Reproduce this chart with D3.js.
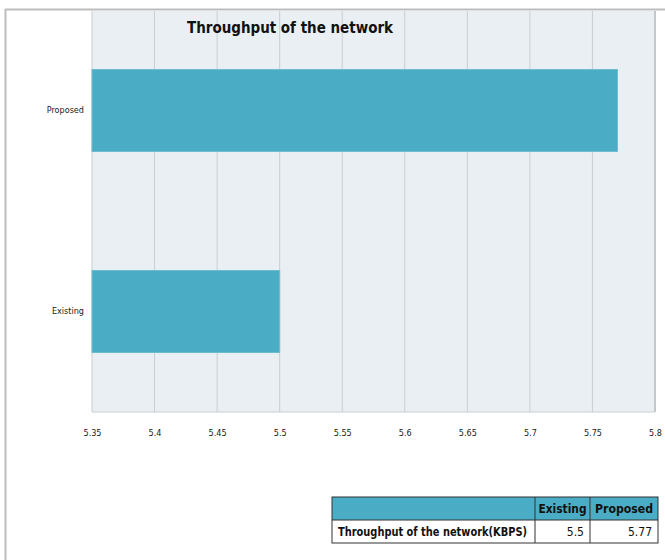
<!DOCTYPE html>
<html>
<head>
<meta charset="utf-8">
<script src="https://cdn.jsdelivr.net/npm/d3@7"></script>
<style>
  body { margin: 0; background: #fff; }
  svg { display: block; }
  text { font-family: "DejaVu Sans Condensed", "DejaVu Sans", sans-serif; }
</style>
</head>
<body>
<div id="chart"></div>
<script>
// Data
const categories = ["Proposed", "Existing"];
const values = [5.77, 5.5];
const tickValues = [5.35, 5.4, 5.45, 5.5, 5.55, 5.6, 5.65, 5.7, 5.75, 5.8];
const tableHeader = ["", "Existing", "Proposed"];
const tableRow = ["Throughput of the network(KBPS)", "5.5", "5.77"];

const W = 665, H = 560;
const plot = { left: 92, right: 655, top: 10, bottom: 412 };

const svg = d3.select("#chart").append("svg")
    .attr("width", W)
    .attr("height", H);

// outer frame
svg.append("line").attr("x1", 5).attr("x2", W).attr("y1", 9.5).attr("y2", 9.5)
    .attr("stroke", "#bdbdbd").attr("stroke-width", 2);
svg.append("line").attr("x1", 5.5).attr("x2", 5.5).attr("y1", 9).attr("y2", H)
    .attr("stroke", "#bdbdbd").attr("stroke-width", 2);

const x = d3.scaleLinear()
    .domain([5.35, 5.8])
    .range([plot.left, plot.right]);

const y = d3.scaleBand()
    .domain(categories)
    .range([plot.top, plot.bottom])
    .paddingInner(0.592)
    .paddingOuter(0.296);

// plot background
svg.append("rect")
    .attr("x", plot.left).attr("y", plot.top + 1)
    .attr("width", plot.right - plot.left).attr("height", plot.bottom - plot.top - 1)
    .attr("fill", "#e9eff3");

// gridlines
svg.append("g")
    .selectAll("line")
    .data(tickValues)
    .join("line")
    .attr("x1", d => x(d)).attr("x2", d => x(d))
    .attr("y1", plot.top + 1).attr("y2", plot.bottom)
    .attr("stroke", d => d === 5.8 ? "#c4c8cb" : "#c9ced1")
    .attr("stroke-width", d => d === 5.8 ? 2 : 1);

svg.append("line")
    .attr("x1", plot.left).attr("x2", plot.right)
    .attr("y1", plot.bottom).attr("y2", plot.bottom)
    .attr("stroke", "#c9ced1");

// bars
svg.append("g")
    .selectAll("rect")
    .data(categories)
    .join("rect")
    .attr("x", x(5.35))
    .attr("y", d => y(d))
    .attr("width", (d, i) => x(values[i]) - x(5.35))
    .attr("height", y.bandwidth())
    .attr("fill", "#4bacc6")
    .attr("stroke", "#6fbcd0")
    .attr("stroke-width", 1);

// x axis labels
const xAxis = d3.axisBottom(x)
    .tickValues(tickValues)
    .tickSize(0)
    .tickPadding(0)
    .tickFormat(d => d3.format("")(+d.toFixed(2)));

svg.append("g")
    .attr("transform", `translate(0,${plot.bottom + 18})`)
    .call(xAxis)
    .call(g => g.select(".domain").remove())
    .call(g => g.selectAll("text")
        .attr("font-size", "9px")
        .attr("fill", "#222")
        .style("font-family", '"DejaVu Sans Condensed", sans-serif'));

// y axis labels
const yAxis = d3.axisLeft(y).tickSize(0).tickPadding(8);
svg.append("g")
    .attr("transform", `translate(${plot.left},0)`)
    .call(yAxis)
    .call(g => g.select(".domain").remove())
    .call(g => g.selectAll("text")
        .attr("font-size", "9px")
        .attr("fill", "#222")
        .style("font-family", '"DejaVu Sans Condensed", sans-serif'));

// title
svg.append("text")
    .attr("x", 290).attr("y", 33)
    .attr("text-anchor", "middle")
    .attr("font-size", "16px")
    .attr("font-weight", "bold")
    .attr("fill", "#111")
    .attr("textLength", 206)
    .attr("lengthAdjust", "spacingAndGlyphs")
    .text("Throughput of the network");

// data table
const cols = [332, 535, 590, 658];
const rowY = [497, 520, 543];
const tbl = svg.append("g");

tbl.append("rect")
    .attr("x", cols[0]).attr("y", rowY[0])
    .attr("width", cols[3] - cols[0]).attr("height", rowY[1] - rowY[0])
    .attr("fill", "#4bacc6");

tbl.append("rect")
    .attr("x", cols[0]).attr("y", rowY[0])
    .attr("width", cols[3] - cols[0]).attr("height", rowY[2] - rowY[0])
    .attr("fill", "none").attr("stroke", "#333").attr("stroke-width", 1);

tbl.append("line")
    .attr("x1", cols[0]).attr("x2", cols[3])
    .attr("y1", rowY[1]).attr("y2", rowY[1])
    .attr("stroke", "#333");

[cols[1], cols[2]].forEach(cx => {
    tbl.append("line")
        .attr("x1", cx).attr("x2", cx)
        .attr("y1", rowY[0]).attr("y2", rowY[2])
        .attr("stroke", "#333");
});

tableHeader.forEach((t, i) => {
    if (!t) return;
    tbl.append("text")
        .attr("x", (cols[i] + cols[i + 1]) / 2)
        .attr("y", rowY[0] + 16)
        .attr("text-anchor", "middle")
        .attr("font-size", "12px")
        .attr("font-weight", "bold")
        .attr("fill", "#111")
        .attr("textLength", i === 1 ? 48 : 58)
        .attr("lengthAdjust", "spacingAndGlyphs")
        .text(t);
});

tableRow.forEach((t, i) => {
    const txt = tbl.append("text")
        .attr("x", i === 0 ? cols[0] + 6 : cols[i + 1] - 6)
        .attr("y", rowY[1] + 16)
        .attr("text-anchor", i === 0 ? "start" : "end")
        .attr("font-size", "12px")
        .attr("font-weight", i === 0 ? "bold" : "normal")
        .attr("fill", "#111")
        .text(t);
    if (i === 0) txt.attr("textLength", 189).attr("lengthAdjust", "spacingAndGlyphs");
});
</script>
</body>
</html>
